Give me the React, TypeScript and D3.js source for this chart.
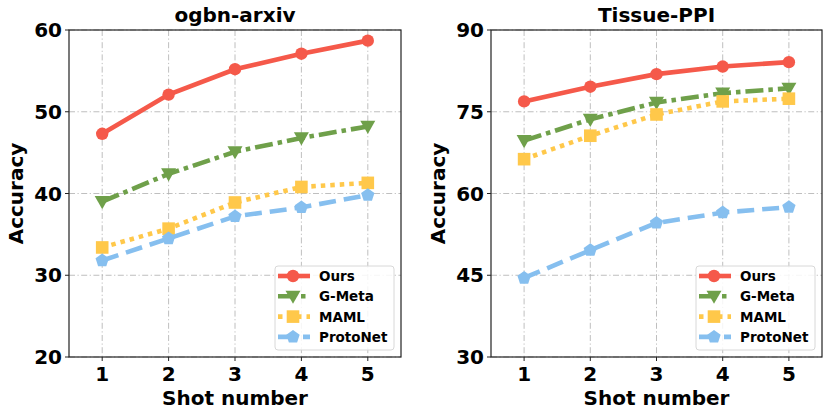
import React from "react";
import * as d3 from "d3";

const shots = [1, 2, 3, 4, 5];
const seriesNames = ["Ours", "G-Meta", "MAML", "ProtoNet"];

const arxivOurs = [47.3, 52.1, 55.2, 57.1, 58.7];
const arxivGMeta = [39.0, 42.4, 45.1, 46.8, 48.2];
const arxivMAML = [33.4, 35.7, 38.9, 40.8, 41.3];
const arxivProto = [31.8, 34.5, 37.2, 38.3, 39.8];

const ppiOurs = [76.9, 79.6, 81.9, 83.3, 84.1];
const ppiGMeta = [69.7, 73.6, 76.7, 78.4, 79.3];
const ppiMAML = [66.3, 70.6, 74.5, 76.9, 77.4];
const ppiProto = [44.5, 49.6, 54.6, 56.5, 57.5];

const arxivTicks = [20, 30, 40, 50, 60];
const ppiTicks = [30, 45, 60, 75, 90];

const colors = ["#F5594A", "#6FA04A", "#FFC84A", "#86BFEF"];
const dashes = [null, "18 5 4.5 5", "4.5 5", "17 8"];
const markers = ["circle", "triangle", "square", "pentagon"];

const FONT = "'DejaVu Sans', sans-serif";

function Marker({ kind, x, y, color }: { kind: string; x: number; y: number; color: string }) {
  if (kind === "circle") return <circle cx={x} cy={y} r={6.2} fill={color} />;
  if (kind === "square") return <rect x={x - 6.3} y={y - 6.3} width={12.6} height={12.6} fill={color} />;
  if (kind === "triangle") {
    const s = 7.5;
    return <path d={`M${x - s},${y - s * 0.75}L${x + s},${y - s * 0.75}L${x},${y + s}Z`} fill={color} />;
  }
  const r = 7;
  const pts = d3.range(5).map((i) => {
    const a = -Math.PI / 2 + (i * 2 * Math.PI) / 5;
    return [x + r * Math.cos(a), y + r * Math.sin(a)];
  });
  return <path d={"M" + pts.map((p) => p.join(",")).join("L") + "Z"} fill={color} />;
}

function Panel({
  left,
  right,
  title,
  ticks,
  series,
  ylabelX,
}: {
  left: number;
  right: number;
  title: string;
  ticks: number[];
  series: number[][];
  ylabelX: number;
}) {
  const top = 30;
  const bottom = 357;
  const x = d3.scaleLinear().domain([0.5, 5.5]).range([left, right]);
  const y = d3.scaleLinear().domain([ticks[0], ticks[ticks.length - 1]]).range([bottom, top]);
  const line = d3
    .line<number>()
    .x((_, i) => x(shots[i]))
    .y((d) => y(d));
  const lgX = right - 126;
  const lgY = 266;
  return (
    <g>
      {/* grid */}
      {shots.map((s) => (
        <line key={"gx" + s} x1={x(s)} x2={x(s)} y1={top} y2={bottom} stroke="#b0b0b0" strokeWidth={1} strokeDasharray="6 2.5 1.2 2.5" opacity={0.8} />
      ))}
      {ticks.map((t) => (
        <line key={"gy" + t} x1={left} x2={right} y1={y(t)} y2={y(t)} stroke="#b0b0b0" strokeWidth={1} strokeDasharray="6 2.5 1.2 2.5" opacity={0.8} />
      ))}
      {/* series */}
      {series.map((vals, si) => (
        <g key={"s" + si}>
          <path d={line(vals) || ""} fill="none" stroke={colors[si]} strokeWidth={4.6} strokeDasharray={dashes[si] || undefined} />
          {vals.map((v, i) => (
            <Marker key={i} kind={markers[si]} x={x(shots[i])} y={y(v)} color={colors[si]} />
          ))}
        </g>
      ))}
      {/* frame */}
      <rect x={left} y={top} width={right - left} height={bottom - top} fill="none" stroke="#222" strokeWidth={1.2} />
      {/* ticks */}
      {ticks.map((t) => (
        <g key={"ty" + t}>
          <line x1={left - 4} x2={left} y1={y(t)} y2={y(t)} stroke="#222" strokeWidth={1} />
          <text x={left - 7} y={y(t) + 7} textAnchor="end" fontFamily={FONT} fontWeight="bold" fontSize={20}>
            {t}
          </text>
        </g>
      ))}
      {shots.map((s) => (
        <g key={"tx" + s}>
          <line x1={x(s)} x2={x(s)} y1={bottom} y2={bottom + 4} stroke="#222" strokeWidth={1} />
          <text x={x(s)} y={381} textAnchor="middle" fontFamily={FONT} fontWeight="bold" fontSize={20}>
            {s}
          </text>
        </g>
      ))}
      <text x={(left + right) / 2} y={22} textAnchor="middle" fontFamily={FONT} fontWeight="bold" fontSize={20}>
        {title}
      </text>
      <text x={(left + right) / 2} y={405} textAnchor="middle" fontFamily={FONT} fontWeight="bold" fontSize={20}>
        Shot number
      </text>
      <text
        transform={`translate(${ylabelX},${(top + bottom) / 2}) rotate(-90)`}
        textAnchor="middle"
        fontFamily={FONT}
        fontWeight="bold"
        fontSize={20}
      >
        Accuracy
      </text>
      {/* legend */}
      <rect x={lgX} y={lgY} width={119} height={84} rx={3} fill="white" fillOpacity={0.85} stroke="#d8d8d8" strokeWidth={1} />
      {seriesNames.map((n, i) => {
        const cy = lgY + 10 + i * 20.3;
        return (
          <g key={"lg" + n}>
            <line x1={lgX + 3} x2={lgX + 35} y1={cy} y2={cy} stroke={colors[i]} strokeWidth={4.6} strokeDasharray={dashes[i] || undefined} />
            <Marker kind={markers[i]} x={lgX + 18} y={cy} color={colors[i]} />
            <text x={lgX + 44} y={cy + 5} fontFamily={FONT} fontWeight="bold" fontSize={13.5}>
              {n}
            </text>
          </g>
        );
      })}
    </g>
  );
}

export default function App() {
  return (
    <svg width={830} height={418} style={{ position: "absolute", left: 0, top: 0, background: "white" }}>
      <Panel left={69} right={401} title="ogbn-arxiv" ticks={arxivTicks} series={[arxivOurs, arxivGMeta, arxivMAML, arxivProto]} ylabelX={23} />
      <Panel left={491} right={822} title="Tissue-PPI" ticks={ppiTicks} series={[ppiOurs, ppiGMeta, ppiMAML, ppiProto]} ylabelX={445} />
    </svg>
  );
}
